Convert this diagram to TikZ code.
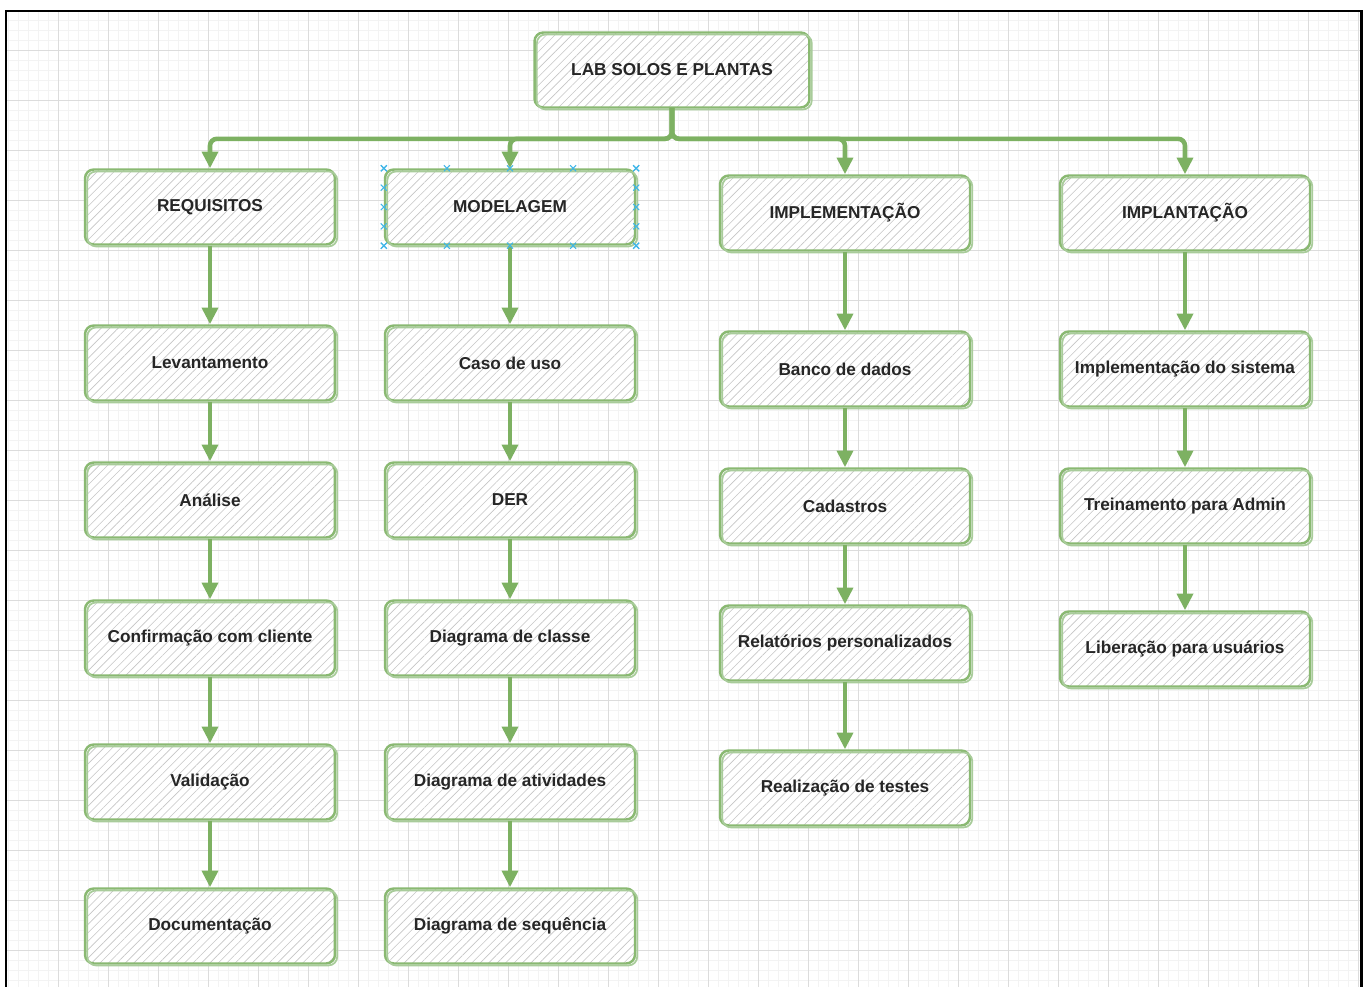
\documentclass[tikz,border=0pt]{standalone}
\usepackage{fontspec}
\setmainfont{Liberation Sans}
\usepackage{xcolor}
\usepackage{tikz}
\usetikzlibrary{arrows.meta,patterns.meta,calc}
\definecolor{sgreen}{HTML}{7DB162}
\definecolor{sgreenlt}{HTML}{A9CC9B}
\definecolor{shatch}{HTML}{C6C6C6}
\definecolor{gminor}{HTML}{F3F3F3}
\definecolor{gmajor}{HTML}{DCDCDC}
\definecolor{xsel}{HTML}{3FB6E8}

\begin{document}
\begin{tikzpicture}[
    x=0.02cm, y=-0.02cm,
    box/.style={rectangle, rounded corners=5pt, minimum width=5cm, minimum height=1.5cm, inner sep=0pt,
        font=\fontsize{9.8}{11}\selectfont\bfseries, text=black!85, draw=sgreen!90, line width=1.4pt,
        preaction={fill=white},
        pattern={Lines[angle=45,distance=3.4pt,line width=0.35pt]}, pattern color=shatch,
        postaction={draw=sgreenlt, line width=1pt, transform canvas={shift={(1.3pt,-1.1pt)}}}},
    conn/.style={draw=sgreen, line width=2.6pt, rounded corners=4pt, -{Triangle[length=9.5pt,width=9pt]}},
    handle/.style={draw=xsel, line width=0.6pt},
]
\useasboundingbox (0,0) rectangle (1367,987);
\fill[white] (0,0) rectangle (1367,987);

% Grid
\foreach \x in {8,18,...,1358} \draw[gminor, line width=0.4pt] (\x,11) -- (\x,987);
\foreach \y in {20,30,...,980} \draw[gminor, line width=0.4pt] (6,\y) -- (1361,\y);
\foreach \x in {58,108,...,1358} \draw[gmajor, line width=0.5pt] (\x,11) -- (\x,987);
\foreach \y in {50,100,...,950} \draw[gmajor, line width=0.5pt] (6,\y) -- (1361,\y);

% Frame
\draw[line width=1.7pt] (6,987) -- (6,11) -- (1361,11) -- (1361,987);

% Root
\node[box, minimum width=5.5cm] (top) at (672,70) {LAB SOLOS E PLANTAS};

% Columns
\foreach \nm/\y/\txt in {
    r0/207/REQUISITOS, r1/363/Levantamento, r2/500/Análise,
    r3/638/Confirmação com cliente, r4/782/Validação, r5/926/Documentação%
} \node[box] (\nm) at (210,\y) {\txt};

\foreach \nm/\y/\txt in {
    m0/207/MODELAGEM, m1/363/Caso de uso, m2/500/DER,
    m3/638/Diagrama de classe, m4/782/Diagrama de atividades, m5/926/Diagrama de sequência%
} \node[box] (\nm) at (510,\y) {\txt};

\foreach \nm/\y/\txt in {
    i0/213/IMPLEMENTAÇÃO, i1/369/Banco de dados, i2/506/Cadastros,
    i3/643/Relatórios personalizados, i4/788/Realização de testes%
} \node[box] (\nm) at (845,\y) {\txt};

\foreach \nm/\y/\txt in {
    p0/213/IMPLANTAÇÃO, p1/369/Implementação do sistema,
    p2/506/Treinamento para Admin, p3/649/Liberação para usuários%
} \node[box] (\nm) at (1185,\y) {\txt};

% Root to columns
\foreach \c in {r0,m0,i0,p0}
    \draw[conn] (top.south) -- ++(0,31) -| (\c.north);

% Steps
\foreach \a/\b in {r0/r1,r1/r2,r2/r3,r3/r4,r4/r5,
                   m0/m1,m1/m2,m2/m3,m3/m4,m4/m5,
                   i0/i1,i1/i2,i2/i3,i3/i4,
                   p0/p1,p1/p2,p2/p3}
    \draw[conn] (\a) -- (\b);

% Selection handles
\foreach \f in {0,0.25,0.5,0.75,1} {
    \draw[handle] ($(m0.north west)!\f!(m0.north east)$) +(-3,-3) -- +(3,3) +(-3,3) -- +(3,-3);
    \draw[handle] ($(m0.south west)!\f!(m0.south east)$) +(-3,-3) -- +(3,3) +(-3,3) -- +(3,-3);
    \draw[handle] ($(m0.north west)!\f!(m0.south west)$) +(-3,-3) -- +(3,3) +(-3,3) -- +(3,-3);
    \draw[handle] ($(m0.north east)!\f!(m0.south east)$) +(-3,-3) -- +(3,3) +(-3,3) -- +(3,-3);
}

\end{tikzpicture}
\end{document}
